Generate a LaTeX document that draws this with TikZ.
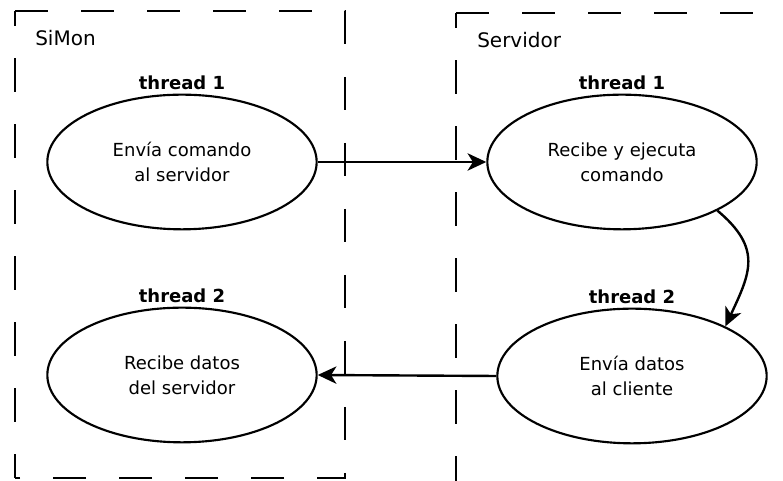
\documentclass[tikz,border=0pt]{standalone}
\usepackage{fontspec}
\setmainfont{DejaVu Sans}
\usetikzlibrary{arrows.meta}
\usetikzlibrary{positioning}
\usetikzlibrary{shapes.geometric}

\begin{document}
\begin{tikzpicture}[line join=miter,>={Stealth[length=14pt,width=13pt,inset=4pt]},x=0.75pt,y=0.75pt,
  proc/.style={ellipse,draw,line width=1.6pt,minimum width=202pt,minimum height=101pt,inner sep=0pt,
    align=center,font=\fontsize{13.5}{18.5}\selectfont},
  hilo/.style={font=\bfseries\fontsize{13.5}{16}\selectfont,inner sep=2pt},
  zona/.style={draw,line width=2pt,dash pattern=on 25pt off 24.5pt},
  titulo/.style={anchor=base west,inner sep=0pt,font=\fontsize{15}{18}\selectfont},
  flecha/.style={->,line width=1.8pt}]
\clip (0,0) rectangle (783,481);
% zonas punteadas
\draw[zona] (15,470) -- (345,470) -- (345,3) -- (15,3);
\draw[zona,dash phase=14pt] (15,470) -- (15,3);
\draw[zona] (456,468) -- (800,468);
\draw[zona,dash phase=14pt] (456,468) -- (456,-4) -- (800,-4);
\node[titulo] (simon) at (35,435) {SiMon};
\node[titulo] (servidor) at (477,433) {Servidor};
% procesos
\node[proc] (envia) at (182,319) {Envía comando\\al servidor};
\node[proc] (ejecuta) at (622,319) {Recibe y ejecuta\\comando};
\node[proc] (recibe) at (182,106) {Recibe datos\\del servidor};
\node[proc] (datos) at (632,105) {Envía datos\\al cliente};
\node[hilo,above=1pt of envia] (h1a) {thread 1};
\node[hilo,above=1pt of ejecuta] (h1b) {thread 1};
\node[hilo,above=1pt of recibe] (h2a) {thread 2};
\node[hilo,above=1pt of datos] (h2b) {thread 2};
% mensajes
\draw[flecha] (envia.east) -- (ejecuta.west);
\draw[flecha] (ejecuta.-27) to[out=-40,in=65,looseness=1.3] (datos.28);
\draw[flecha] (datos.west) -- (recibe.east);
\end{tikzpicture}
\end{document}
